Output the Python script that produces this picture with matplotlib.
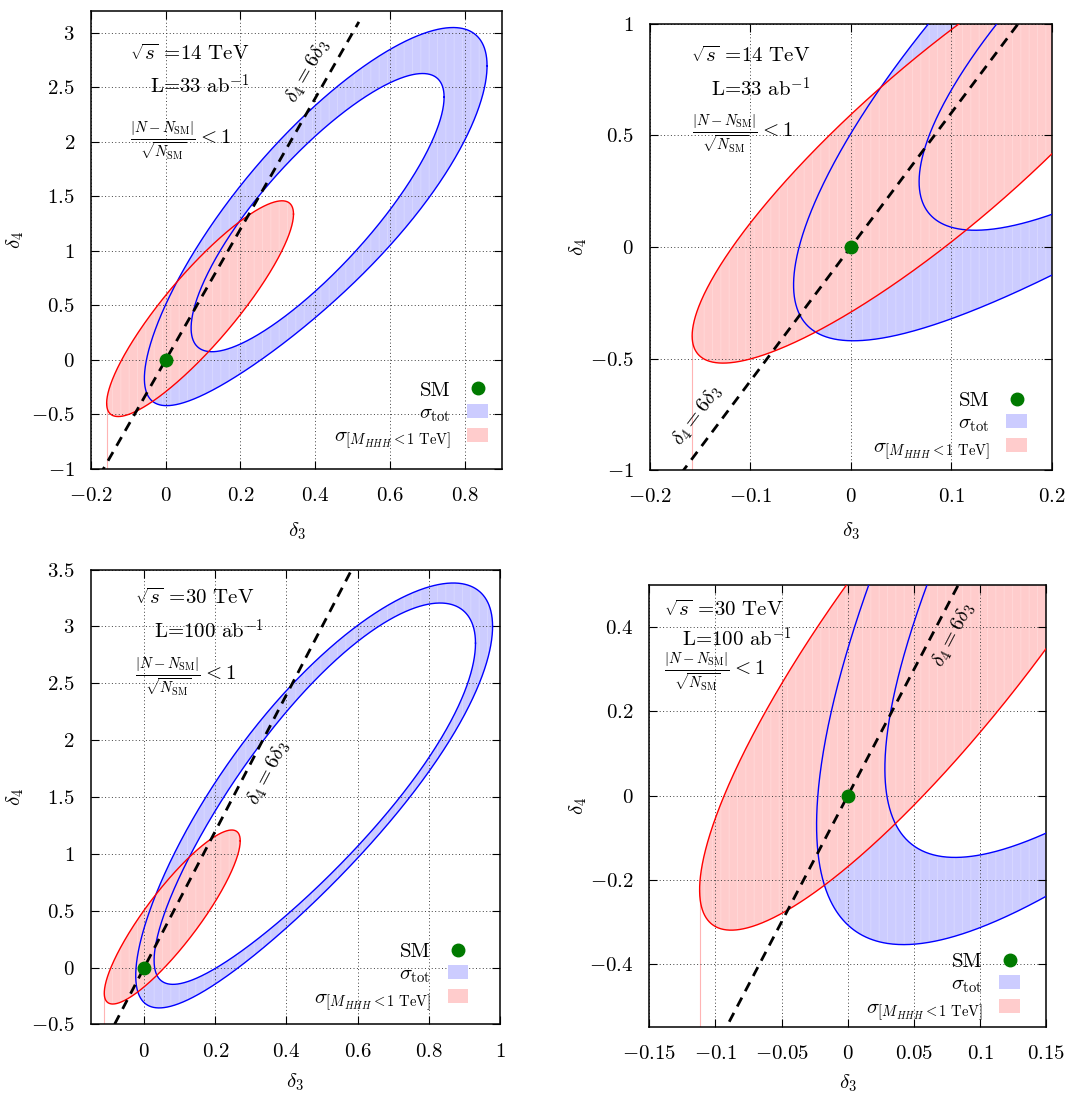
import numpy as np
import matplotlib
matplotlib.use("Agg")
import matplotlib.pyplot as plt
from matplotlib.path import Path
from matplotlib.patches import PathPatch, Patch
from matplotlib.lines import Line2D
from matplotlib.ticker import MultipleLocator, FuncFormatter

plt.rcParams["mathtext.fontset"] = "cm"
plt.rcParams["font.family"] = ["cmr10", "DejaVu Serif"]
plt.rcParams["axes.formatter.use_mathtext"] = True
plt.rcParams["hatch.linewidth"] = 0.6

# Contour shapes in the (delta3, delta4) plane:
# [centre d3, centre d4, half-extent d3, half-extent d4,
#  tilt mean, tilt change along d3, tilt change at the lower-left end, bend]
tot14_outer = [0.4015, 1.315, 0.4585, 1.735, 0.827, -0.029, -0.039, 0.0]
tot14_inner = [0.4065, 1.3515, 0.3385, 1.2765, 0.83, 0.0, -0.01, 0.0]
cut14 = [0.092, 0.47, 0.25, 0.99, 0.877, 0.0, 0.0, 0.0]
tot30_outer = [0.4777, 1.476, 0.5013, 1.8625, 0.824, -0.006, -0.025, 0.12]
tot30_inner = [0.4795, 1.496, 0.4515, 1.67, 0.835, -0.0225, 0.0, 0.11]
cut30 = [0.079, 0.445, 0.191, 0.765, 0.875, 0.0, 0.0, 0.0]

# Standard Model point
sm_point = (0.0, 0.0)
# slope of the reference line delta4 = 6 delta3
line_slope = 6.0

energies = ["14", "14", "30", "30"]
lumis = ["33", "33", "100", "100"]
xlims = [(-0.2, 0.9), (-0.2, 0.2), (-0.15, 1.0), (-0.15, 0.15)]
ylims = [(-1.0, 3.2), (-1.0, 1.0), (-0.5, 3.5), (-0.55, 0.5)]
xsteps = [0.2, 0.1, 0.2, 0.05]
ysteps = [0.5, 0.5, 0.5, 0.2]
line_ranges = [(-0.2, 0.517), (-0.2, 0.2), (-0.15, 0.6), (-0.15, 0.15)]

BLUE_FILL = "#ccccff"
RED_FILL = "#ffcccc"
BLUE_STRIPE = "#d9d9ff"
RED_STRIPE = "#ffd9d9"
GREEN = "#007a00"
FS = 15


def boundary(p, n=1441):
    cx, cy, hx, hy, r0, rc, rs, bend = p
    t = np.linspace(0.0, 2.0 * np.pi, n)
    c, s = np.cos(t), np.sin(t)
    rho = r0 + rc * c + rs * s * (1.0 - c) / 2.0
    x = cx + hx * c
    y = cy + hy * (rho * c + np.sqrt(1.0 - rho ** 2) * s) + bend * s ** 2
    return x, y


def band_patch(outer, inner, **kw):
    xo, yo = boundary(outer)
    xi, yi = boundary(inner)
    xi, yi = xi[::-1], yi[::-1]
    verts = np.concatenate([np.column_stack([xo, yo]), np.column_stack([xi, yi])])
    codes = np.full(len(verts), Path.LINETO)
    codes[0] = Path.MOVETO
    codes[len(xo) - 1] = Path.CLOSEPOLY
    codes[len(xo)] = Path.MOVETO
    codes[-1] = Path.CLOSEPOLY
    return PathPatch(Path(verts, codes), **kw)


fig = plt.figure(figsize=(10.88, 10.97), dpi=100)
rects = [
    [0.0836, 0.5726, 0.3778, 0.4172],
    [0.5974, 0.5713, 0.3692, 0.4071],
    [0.0834, 0.0661, 0.3762, 0.4147],
    [0.5968, 0.0639, 0.3649, 0.4026],
]
# text anchors in axes fractions: (sqrt s line, luminosity line, ratio line)
text_pos = [
    [(0.095, 0.906), (0.143, 0.837), (0.095, 0.716)],
    [(0.102, 0.929), (0.152, 0.854), (0.105, 0.754)],
    [(0.108, 0.937), (0.155, 0.866), (0.108, 0.763)],
    [(0.037, 0.945), (0.083, 0.878), (0.037, 0.803)],
]
line_label_pos = [(0.38, 2.65), (-0.153, -0.757), (0.35, 1.71), (0.080, 0.382)]
legend_anchor = [(0.987, 0.02), (0.96, 0.001), (0.943, 0.007), (0.955, -0.009)]
xlabel_y = [-0.113, -0.112, -0.104, -0.104]
ylabel_x = [-0.158, -0.152, -0.158, -0.152]

contours = [
    (tot14_outer, tot14_inner, cut14),
    (tot14_outer, tot14_inner, cut14),
    (tot30_outer, tot30_inner, cut30),
    (tot30_outer, tot30_inner, cut30),
]

fmt = FuncFormatter(lambda v, p: "$%g$" % round(v, 6))

for k in range(4):
    ax = fig.add_axes(rects[k])
    outer, inner, cut = contours[k]
    ax.set_xlim(*xlims[k])
    ax.set_ylim(*ylims[k])

    # sigma_tot band
    ax.add_patch(band_patch(outer, inner, facecolor=BLUE_FILL, edgecolor=BLUE_STRIPE,
                            lw=0, hatch="||", zorder=1))
    # sigma with M_HHH cut region
    xc, yc = boundary(cut)
    ax.fill(xc, yc, facecolor=RED_FILL, edgecolor=RED_STRIPE, lw=0, hatch="||", zorder=1.1)
    ileft = np.argmin(xc)
    ax.plot([xc[ileft], xc[ileft]], [yc[ileft], ylims[k][0]], color="#ffb4b4", lw=0.8, zorder=1.2)

    for p in (outer, inner):
        xb, yb = boundary(p)
        ax.plot(xb, yb, color="#0000ff", lw=1.0, zorder=3)
    ax.plot(xc, yc, color="#ff0000", lw=1.0, zorder=3.1)

    # delta4 = 6 delta3
    lx = np.array(line_ranges[k])
    ax.plot(lx, line_slope * lx, color="black", lw=2.0, dashes=(3.6, 2.6), zorder=4)
    ax.text(line_label_pos[k][0], line_label_pos[k][1], r"$\delta_4 = 6\delta_3$",
            rotation=np.degrees(np.arctan(line_slope)), transform_rotates_text=True,
            rotation_mode="anchor", ha="center", va="center", fontsize=FS, zorder=5)

    ax.plot(*sm_point, "o", color=GREEN, ms=9, zorder=6)

    # annotations
    (x1, y1), (x2, y2), (x3, y3) = text_pos[k]
    ax.text(x1, y1, r"$\sqrt{s}$ =" + energies[k] + " TeV", transform=ax.transAxes,
            ha="left", va="center", fontsize=FS)
    ax.text(x2, y2, r"L=" + lumis[k] + r" ab$^{-1}$", transform=ax.transAxes,
            ha="left", va="center", fontsize=FS)
    ax.text(x3, y3, r"$\frac{|N-N_{\rm SM}|}{\sqrt{N_{\rm SM}}} < 1$", transform=ax.transAxes,
            ha="left", va="center", fontsize=FS)

    handles = [
        Line2D([], [], marker="o", ls="", color=GREEN, ms=9),
        Patch(facecolor=BLUE_FILL, edgecolor="none"),
        Patch(facecolor=RED_FILL, edgecolor="none"),
    ]
    labels = ["SM", r"$\sigma_{\rm tot}$", r"$\sigma_{[M_{HHH}<1\ {\rm TeV}]}$"]
    ax.legend(handles, labels, loc="lower right", bbox_to_anchor=legend_anchor[k],
              frameon=False, markerfirst=False, fontsize=FS, handlelength=1.0,
              handleheight=0.65, labelspacing=0.2, handletextpad=0.8, borderaxespad=0)

    ax.xaxis.set_major_locator(MultipleLocator(xsteps[k]))
    ax.yaxis.set_major_locator(MultipleLocator(ysteps[k]))
    ax.xaxis.set_major_formatter(fmt)
    ax.yaxis.set_major_formatter(fmt)
    ax.tick_params(direction="in", top=True, right=True, length=5.5, width=0.8,
                   labelsize=FS)
    ax.tick_params(axis="x", pad=13)
    ax.tick_params(axis="y", pad=11.5)
    ax.grid(True, color="0.25", lw=0.7, linestyle=(0, (1, 2.5)))
    for s in ax.spines.values():
        s.set_linewidth(1.1)
    ax.set_xlabel(r"$\delta_3$", fontsize=FS)
    ax.set_ylabel(r"$\delta_4$", fontsize=FS)
    ax.xaxis.set_label_coords(0.5, xlabel_y[k])
    ax.yaxis.set_label_coords(ylabel_x[k], 0.5)

fig.savefig("out.png", dpi=100)
